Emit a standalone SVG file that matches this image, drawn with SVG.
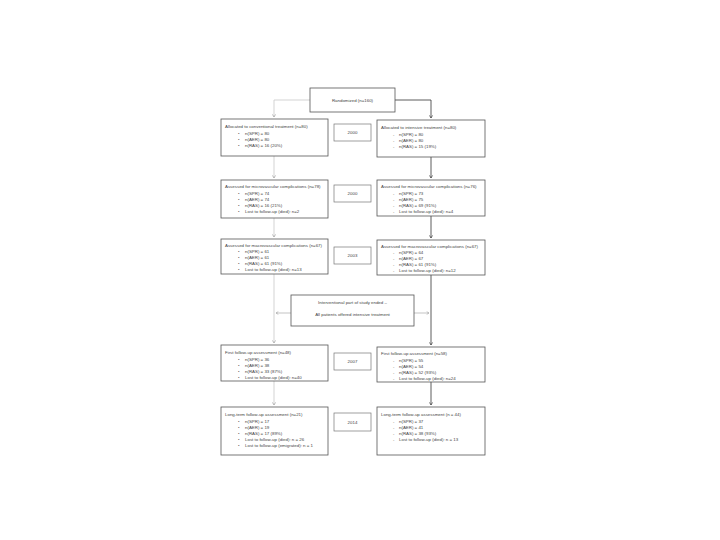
<svg xmlns="http://www.w3.org/2000/svg" width="720" height="540" viewBox="0 0 720 540">
<defs>
<style>
.box{fill:#fff;stroke:#555;stroke-width:0.8}
.yr{fill:#fff;stroke:#777;stroke-width:0.7}
text{font-family:"Liberation Sans",Arial,sans-serif;font-size:4.4px;fill:#444}
.c{text-anchor:middle}
.lc{fill:none;stroke:#c8c8c8;stroke-width:0.8}
.rc{fill:none;stroke:#333;stroke-width:0.8}
.mc{fill:none;stroke:#aaa;stroke-width:0.7}
</style>
<marker id="ag" viewBox="0 0 6 6" refX="5" refY="3" markerWidth="5" markerHeight="5" orient="auto"><path d="M1,0.5 L5,3 L1,5.5" fill="none" stroke="#999" stroke-width="0.9"/></marker>
<marker id="ad" viewBox="0 0 6 6" refX="5" refY="3" markerWidth="5" markerHeight="5" orient="auto"><path d="M1,0.5 L5,3 L1,5.5" fill="none" stroke="#333" stroke-width="0.9"/></marker>
</defs>
<rect width="720" height="540" fill="#fff"/>
<g id="connectors">
<path class="lc" d="M310,100 H274 V117" marker-end="url(#ag)"/>
<path class="rc" d="M395,100 H431 V118" marker-end="url(#ad)"/>
<path class="lc" d="M274,156 V178" marker-end="url(#ag)"/>
<path class="lc" d="M274,218 V237" marker-end="url(#ag)"/>
<path class="lc" d="M274,274 V343" marker-end="url(#ag)"/>
<path class="lc" d="M274,381 V405" marker-end="url(#ag)"/>
<path class="rc" d="M431,157 V178" marker-end="url(#ad)"/>
<path class="rc" d="M431,216 V238" marker-end="url(#ad)"/>
<path class="rc" d="M431,275 V345" marker-end="url(#ad)"/>
<path class="rc" d="M431,382 V405" marker-end="url(#ad)"/>
<path class="mc" d="M291,313 H276" marker-end="url(#ag)"/>
<path class="mc" d="M414,313 H429" marker-end="url(#ag)"/>
</g>
<g id="randomized"><rect class="box" x="310" y="88" width="85" height="24"/><text class="c" x="352.5" y="101.5">Randomized (n=160)</text></g>
<g id="y1"><rect class="yr" x="334" y="124" width="37" height="17"/><text class="c" x="352.5" y="134">2000</text></g>
<g id="y2"><rect class="yr" x="334" y="185" width="37" height="17"/><text class="c" x="352.5" y="195">2000</text></g>
<g id="y3"><rect class="yr" x="334" y="247" width="37" height="17"/><text class="c" x="352.5" y="257">2003</text></g>
<g id="y4"><rect class="yr" x="334" y="353" width="37" height="17"/><text class="c" x="352.5" y="363">2007</text></g>
<g id="y5"><rect class="yr" x="334" y="413" width="37" height="18"/><text class="c" x="352.5" y="423.5">2014</text></g>
<g id="l1"><rect class="box" x="221" y="119" width="107" height="37"/>
<text x="225" y="128">Allocated to conventional treatment (n=80)</text>
<text x="238" y="135">•</text><text x="245" y="135">n(SPR) = 80</text>
<text x="238" y="141">•</text><text x="245" y="141">n(AER) = 80</text>
<text x="238" y="147">•</text><text x="245" y="147">n(RAS) = 16 (20%)</text></g>
<g id="r1"><rect class="box" x="377" y="120" width="108" height="37"/>
<text x="381" y="129">Allocated to intensive treatment (n=80)</text>
<text x="393" y="136">-</text><text x="399" y="136">n(SPR) = 80</text>
<text x="393" y="142">-</text><text x="399" y="142">n(AER) = 80</text>
<text x="393" y="148">-</text><text x="399" y="148">n(RAS) = 15 (19%)</text></g>
<g id="l2"><rect class="box" x="221" y="180" width="107" height="38"/>
<text x="225" y="188">Assessed for microvascular complications (n=78)</text>
<text x="238" y="194.5">•</text><text x="245" y="194.5">n(SPR) = 74</text>
<text x="238" y="200.5">•</text><text x="245" y="200.5">n(AER) = 74</text>
<text x="238" y="206.5">•</text><text x="245" y="206.5">n(RAS) = 16 (21%)</text>
<text x="238" y="212.5">•</text><text x="245" y="212.5">Lost to follow-up (died): n=2</text></g>
<g id="r2"><rect class="box" x="377" y="180" width="108" height="36"/>
<text x="381" y="188">Assessed for microvascular complications (n=76)</text>
<text x="393" y="194.5">-</text><text x="399" y="194.5">n(SPR) = 73</text>
<text x="393" y="200.5">-</text><text x="399" y="200.5">n(AER) = 75</text>
<text x="393" y="206.5">-</text><text x="399" y="206.5">n(RAS) = 69 (91%)</text>
<text x="393" y="212.5">-</text><text x="399" y="212.5">Lost to follow-up (died): n=4</text></g>
<g id="l3"><rect class="box" x="221" y="239" width="107" height="35"/>
<text x="225" y="247">Assessed for macrovascular complications (n=67)</text>
<text x="238" y="253">•</text><text x="245" y="253">n(SPR) = 61</text>
<text x="238" y="259">•</text><text x="245" y="259">n(AER) = 61</text>
<text x="238" y="265">•</text><text x="245" y="265">n(RAS) = 61 (91%)</text>
<text x="238" y="271">•</text><text x="245" y="271">Lost to follow-up (died): n=13</text></g>
<g id="r3"><rect class="box" x="377" y="240" width="108" height="35"/>
<text x="381" y="248">Assessed for macrovascular complications (n=67)</text>
<text x="393" y="254">-</text><text x="399" y="254">n(SPR) = 64</text>
<text x="393" y="260">-</text><text x="399" y="260">n(AER) = 67</text>
<text x="393" y="266">-</text><text x="399" y="266">n(RAS) = 61 (91%)</text>
<text x="393" y="272">-</text><text x="399" y="272">Lost to follow-up (died): n=12</text></g>
<g id="mid"><rect class="box" x="291" y="295" width="123" height="31"/>
<text class="c" x="352.5" y="304">Interventional part of study ended –</text>
<text class="c" x="352.5" y="316">All patients offered intensive treatment</text></g>
<g id="l4"><rect class="box" x="221" y="345" width="107" height="36"/>
<text x="225" y="354">First follow-up assessment (n=48)</text>
<text x="238" y="360.5">•</text><text x="245" y="360.5">n(SPR) = 36</text>
<text x="238" y="366.5">•</text><text x="245" y="366.5">n(AER) = 38</text>
<text x="238" y="372.5">•</text><text x="245" y="372.5">n(RAS) = 33 (87%)</text>
<text x="238" y="378.5">•</text><text x="245" y="378.5">Lost to follow-up (died): n=40</text></g>
<g id="r4"><rect class="box" x="377" y="347" width="108" height="35"/>
<text x="381" y="355">First follow-up assessment (n=58)</text>
<text x="393" y="361.5">-</text><text x="399" y="361.5">n(SPR) = 55</text>
<text x="393" y="367.5">-</text><text x="399" y="367.5">n(AER) = 54</text>
<text x="393" y="373.5">-</text><text x="399" y="373.5">n(RAS) = 52 (93%)</text>
<text x="393" y="379.5">-</text><text x="399" y="379.5">Lost to follow-up (died): n=24</text></g>
<g id="l5"><rect class="box" x="221" y="407" width="107" height="48"/>
<text x="225" y="416">Long-term follow-up assessment (n=21)</text>
<text x="238" y="423">•</text><text x="245" y="423">n(SPR) = 17</text>
<text x="238" y="429">•</text><text x="245" y="429">n(AER) = 19</text>
<text x="238" y="435">•</text><text x="245" y="435">n(RAS) = 17 (89%)</text>
<text x="238" y="441">•</text><text x="245" y="441">Lost to follow-up (died): n = 26</text>
<text x="238" y="447">•</text><text x="245" y="447">Lost to follow-up (emigrated): n = 1</text></g>
<g id="r5"><rect class="box" x="377" y="407" width="108" height="48"/>
<text x="381" y="416">Long-term follow-up assessment (n = 44)</text>
<text x="393" y="423">-</text><text x="399" y="423">n(SPR) = 37</text>
<text x="393" y="429">-</text><text x="399" y="429">n(AER) = 41</text>
<text x="393" y="435">-</text><text x="399" y="435">n(RAS) = 38 (93%)</text>
<text x="393" y="441">-</text><text x="399" y="441">Lost to follow-up (died): n = 13</text></g>
</svg>
